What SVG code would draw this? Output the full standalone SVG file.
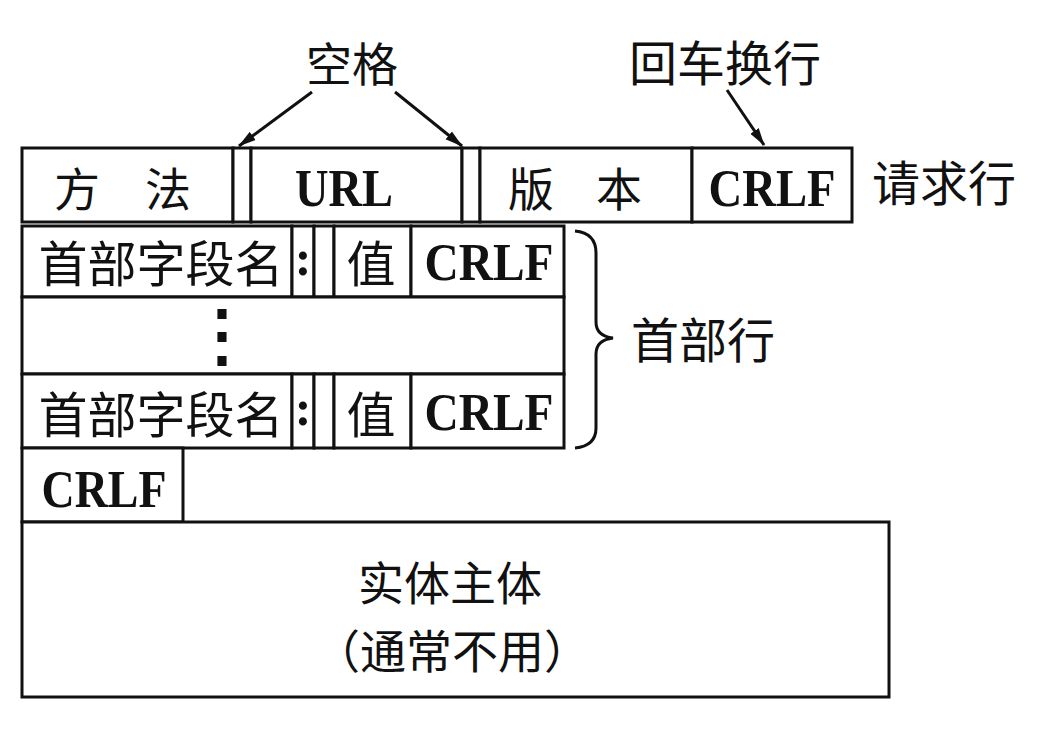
<svg xmlns="http://www.w3.org/2000/svg" width="1043" height="738" viewBox="0 0 1043 738">
<style>
.box{fill:#fff;stroke:#111;stroke-width:3}
.cjk{font-family:"Noto Sans CJK SC","Noto Sans CJK JP",sans-serif;font-size:48px;fill:#111;text-anchor:middle;dominant-baseline:central}
.lat{font-family:"Liberation Serif",serif;font-weight:bold;font-size:52px;fill:#111;text-anchor:middle;dominant-baseline:central}
.con{stroke:#111;stroke-width:3;fill:none}
</style>
<defs>
<marker id="ah" markerUnits="userSpaceOnUse" markerWidth="20" markerHeight="12" refX="17" refY="6" orient="auto">
<path d="M0,1 L18,6 L0,11 z" fill="#111"/>
</marker>
</defs>
<rect width="1043" height="738" fill="#fff"/>

<g id="request-line">
<g id="method"><rect class="box" x="22" y="148" width="211" height="74"/><text class="cjk" x="77" y="186" style="font-size:46px">方</text><text class="cjk" x="168" y="186" style="font-size:46px">法</text></g>
<g id="sp1"><rect class="box" x="233" y="148" width="18" height="74"/></g>
<g id="url"><rect class="box" x="251" y="148" width="211" height="74"/><text class="lat" x="344" y="188" textLength="98" lengthAdjust="spacingAndGlyphs">URL</text></g>
<g id="sp2"><rect class="box" x="462" y="148" width="18" height="74"/></g>
<g id="version"><rect class="box" x="480" y="148" width="212" height="74"/><text class="cjk" x="531" y="186" style="font-size:46px">版</text><text class="cjk" x="619" y="186" style="font-size:46px">本</text></g>
<g id="crlf0"><rect class="box" x="692" y="148" width="160" height="74"/><text class="lat" x="772" y="188" textLength="127" lengthAdjust="spacingAndGlyphs">CRLF</text></g>
</g>
<g id="label-request"><text class="cjk" x="944" y="180">请求行</text></g>
<g id="label-space"><text class="cjk" x="352" y="61" style="font-size:46px">空格</text></g>
<g id="label-crlf"><text class="cjk" x="725" y="60">回车换行</text></g>

<g id="header1">
<rect class="box" x="22" y="226" width="270" height="71"/>
<text class="cjk" x="161" y="260" style="font-size:49px">首部字段名</text>
<rect class="box" x="292" y="226" width="22" height="71"/>
<text class="lat" x="303" y="258" style="font-size:50px">:</text>
<rect class="box" x="314" y="226" width="20" height="71"/>
<rect class="box" x="334" y="226" width="77" height="71"/>
<text class="cjk" x="371" y="260" style="font-size:49px">值</text>
<rect class="box" x="411" y="226" width="153" height="71"/>
<text class="lat" x="489" y="262" textLength="129" lengthAdjust="spacingAndGlyphs">CRLF</text>
</g>

<g id="ellipsis-row">
<rect class="box" x="22" y="297" width="542" height="77"/>
<text x="222" y="359" font-family="DejaVu Serif,serif" font-size="68" font-weight="bold" text-anchor="middle" fill="#111">⋮</text>
</g>

<g id="header2">
<rect class="box" x="22" y="374" width="270" height="74"/>
<text class="cjk" x="161" y="411" style="font-size:49px">首部字段名</text>
<rect class="box" x="292" y="374" width="22" height="74"/>
<text class="lat" x="303" y="408" style="font-size:50px">:</text>
<rect class="box" x="314" y="374" width="20" height="74"/>
<rect class="box" x="334" y="374" width="77" height="74"/>
<text class="cjk" x="371" y="411" style="font-size:49px">值</text>
<rect class="box" x="411" y="374" width="153" height="74"/>
<text class="lat" x="489" y="412" textLength="129" lengthAdjust="spacingAndGlyphs">CRLF</text>
</g>

<g id="crlf-end">
<rect class="box" x="22" y="448" width="161" height="74"/>
<text class="lat" x="104" y="489" textLength="125" lengthAdjust="spacingAndGlyphs">CRLF</text>
</g>

<g id="body">
<rect class="box" x="22" y="522" width="867" height="175"/>
<text class="cjk" x="450" y="580" style="font-size:46px">实体主体</text>
<text class="cjk" x="452" y="648" style="font-size:46px">（通常不用）</text>
</g>

<g id="label-header"><text class="cjk" x="703" y="337">首部行</text></g>

<g id="connectors">
<path class="con" d="M312,92 L239,146" marker-end="url(#ah)"/>
<path class="con" d="M395,92 L462,146" marker-end="url(#ah)"/>
<path class="con" d="M727,90 L764,145" marker-end="url(#ah)"/>
<path class="con" stroke-width="2.5" d="M575,231 Q596,233 596,253 L596,322 Q596,336 613,338 Q596,340 596,354 L596,428 Q596,446 575,448"/>
</g>
</svg>
